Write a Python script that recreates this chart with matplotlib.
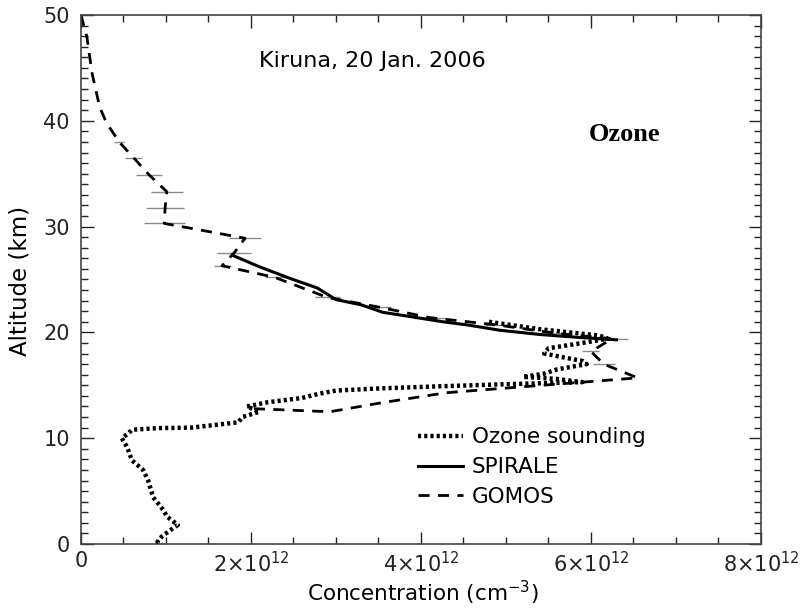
import matplotlib.pyplot as plt
import numpy as np

# GOMOS profile (1e12 cm-3) with horizontal error bars
gomos_alt = [50.0, 47.9, 44.5, 41.3, 39.8, 38.0, 36.5, 34.9, 33.3, 31.8, 30.3,
             28.9, 27.5, 26.3, 25.2, 23.3, 22.4, 21.4, 20.7, 19.9, 19.4, 18.2,
             17.0, 15.7, 14.3, 13.3, 12.5, 12.8]
gomos_conc = [0.0, 0.07, 0.13, 0.22, 0.30, 0.45, 0.62, 0.80, 1.01, 0.99, 0.98,
              1.93, 1.80, 1.66, 2.28, 2.90, 3.50, 4.10, 4.90, 5.60, 6.25, 6.00,
              6.15, 6.55, 4.30, 3.50, 2.93, 2.00]
gomos_err = [0.0, 0.0, 0.0, 0.0, 0.0, 0.06, 0.10, 0.15, 0.19, 0.22, 0.24,
             0.19, 0.20, 0.10, 0.12, 0.15, 0.15, 0.18, 0.15, 0.15, 0.19, 0.10,
             0.13, 0.0, 0.0, 0.0, 0.0, 0.0]

# SPIRALE
spirale_alt = [27.3, 26.2, 25.1, 24.2, 23.1, 22.6, 21.9, 21.5, 21.0, 20.7,
               20.2, 19.8, 19.5, 19.3]
spirale_conc = [1.78, 2.10, 2.46, 2.78, 3.00, 3.30, 3.55, 3.87, 4.26, 4.55,
                4.93, 5.40, 5.90, 6.30]

# Ozone sounding
sonde_alt = [21.0, 20.3, 19.7, 19.4, 19.0, 18.5, 18.0, 17.6, 17.3, 17.0, 16.5,
             16.1, 15.8, 15.6, 15.3, 15.1, 14.9, 14.7, 14.5, 14.2, 13.8, 13.4,
             13.0, 12.5, 12.0, 11.5, 11.0, 10.95, 10.8, 10.4, 10.0, 9.2, 7.9,
             7.0, 6.0, 4.4, 3.2, 2.6, 1.8, 1.3, 0.7, 0.2, 0.0]
sonde_conc = [4.8, 5.4, 6.1, 6.2, 5.9, 5.5, 5.45, 5.7, 5.9, 5.95, 5.6, 5.45,
              5.2, 5.6, 5.9, 5.0, 4.2, 3.5, 3.0, 2.8, 2.6, 2.2, 1.95, 2.1, 1.9,
              1.85, 1.3, 0.9, 0.6, 0.55, 0.48, 0.54, 0.6, 0.73, 0.79, 0.85,
              0.97, 1.01, 1.14, 1.05, 0.95, 0.9, 0.95]

fig = plt.figure(figsize=(8.01, 6.08), dpi=100)
ax = fig.add_axes([0.1011, 0.1053, 0.8489, 0.8700])

scale = 1e12
ax.errorbar(np.array(gomos_conc) * scale, gomos_alt, xerr=np.array(gomos_err) * scale,
            fmt='none', ecolor='#8a8a8a', elinewidth=1.0, capsize=0, zorder=1)
ax.plot(np.array(gomos_conc) * scale, gomos_alt, color='black', lw=2.0,
        linestyle=(0, (4, 3)), label='GOMOS', zorder=2)
ax.plot(np.array(spirale_conc) * scale, spirale_alt, color='black', lw=2.2,
        label='SPIRALE', zorder=3)
ax.plot(np.array(sonde_conc) * scale, sonde_alt, color='black', lw=3.2,
        linestyle=(0, (0.7, 0.7)), label='Ozone sounding', zorder=4)

ax.set_xlim(0, 8e12)
ax.set_ylim(0, 50)
ax.set_xticks([0, 2e12, 4e12, 6e12, 8e12])
ax.set_xticklabels(['0', r'2$\times$10$^{12}$', r'4$\times$10$^{12}$',
                    r'6$\times$10$^{12}$', r'8$\times$10$^{12}$'])
ax.set_xticks(np.arange(0, 8.01e12, 0.5e12), minor=True)
ax.set_yticks([0, 10, 20, 30, 40, 50])
ax.set_yticks(np.arange(0, 51, 1), minor=True)

ax.tick_params(which='both', direction='in', top=True, right=True,
               labelsize=15, colors='#222222', width=1.0)
ax.tick_params(which='major', length=9)
ax.tick_params(axis='x', which='major', pad=5)
ax.tick_params(axis='y', which='major', pad=8)
ax.tick_params(which='minor', length=5)
for s in ax.spines.values():
    s.set_linewidth(1.2)
    s.set_color('#444444')

ax.set_xlabel(r'Concentration (cm$^{-3}$)', fontsize=15.5)
ax.xaxis.set_label_coords(0.503, -0.093)
ax.xaxis.label.set_verticalalignment('center')
ax.set_ylabel('Altitude (km)', fontsize=16.5)
ax.yaxis.set_label_coords(-0.09, 0.498)
ax.yaxis.label.set_verticalalignment('center')

ax.text(0.428, 0.913, 'Kiruna, 20 Jan. 2006', transform=ax.transAxes,
        fontsize=16, ha='center', va='center')
ax.text(0.799, 0.775, 'Ozone', transform=ax.transAxes, fontsize=19,
        fontweight='bold', family='Liberation Serif', ha='center', va='center')

h, l = ax.get_legend_handles_labels()
order = [2, 1, 0]
ax.legend([h[i] for i in order], [l[i] for i in order], frameon=False,
          fontsize=15.5, loc='lower left', bbox_to_anchor=(0.48, 0.05),
          handlelength=2.1, handletextpad=0.4, labelspacing=0.45,
          borderpad=0)

fig.savefig('out.png', dpi=100)
